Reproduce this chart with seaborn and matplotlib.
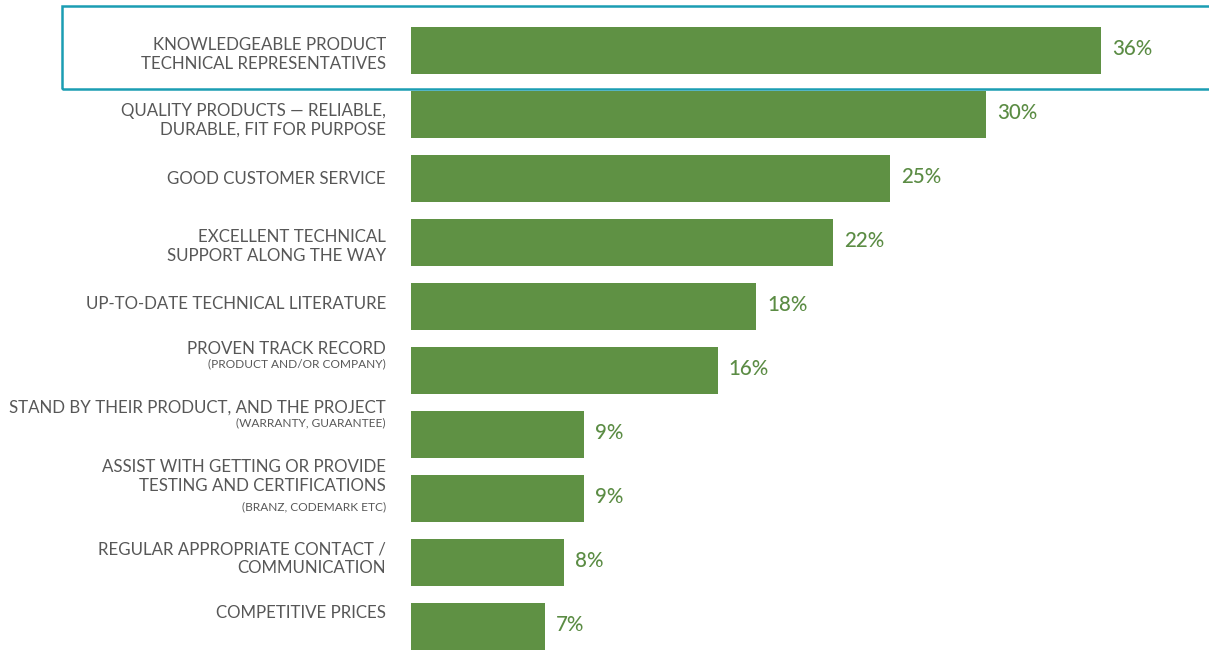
import matplotlib
matplotlib.use("Agg")
import matplotlib.pyplot as plt
from matplotlib.patches import Rectangle
import seaborn as sns
import pandas as pd

# Survey results: what matters most when choosing a supplier
categories = [
    "Knowledgeable product technical representatives",
    "Quality products",
    "Good customer service",
    "Excellent technical support",
    "Up-to-date technical literature",
    "Proven track record",
    "Stand by their product",
    "Testing and certifications",
    "Regular contact",
    "Competitive prices",
]
values = [36, 30, 25, 22, 18, 16, 9, 9, 8, 7]

# Label text per row: main lines, then small qualifier line (or None)
label_main = [
    ["KNOWLEDGEABLE PRODUCT", "TECHNICAL REPRESENTATIVES"],
    ["QUALITY PRODUCTS \u2014 RELIABLE,", "DURABLE, FIT FOR PURPOSE"],
    ["GOOD CUSTOMER SERVICE"],
    ["EXCELLENT TECHNICAL", "SUPPORT ALONG THE WAY"],
    ["UP-TO-DATE TECHNICAL LITERATURE"],
    ["PROVEN TRACK RECORD"],
    ["STAND BY THEIR PRODUCT, AND THE PROJECT"],
    ["ASSIST WITH GETTING OR PROVIDE", "TESTING AND CERTIFICATIONS"],
    ["REGULAR APPROPRIATE CONTACT /", "COMMUNICATION"],
    ["COMPETITIVE PRICES"],
]
label_sub = [
    None, None, None, None, None,
    "(PRODUCT AND/OR COMPANY)",
    "(WARRANTY, GUARANTEE)",
    "(BRANZ, CODEMARK ETC)",
    None, None,
]

df = pd.DataFrame({"category": categories, "value": values})

BAR = "#5f9144"
VALUE_TEXT = "#5b8c44"
TEXT = "#575757"
FRAME = "#1b9db3"

sns.set_theme(style="white")
plt.rcParams["font.family"] = ["Lato", "DejaVu Sans"]

W, H, DPI = 1209, 651, 100
fig = plt.figure(figsize=(W / DPI, H / DPI), dpi=DPI)
fig.patch.set_facecolor("white")

# axes geometry in pixels
ax_left, ax_right = 411, 1178
row_top, row_pitch = 50.5, 64.0
ax_top = row_top - row_pitch / 2
ax_bot = row_top + row_pitch * 9.5
ax = fig.add_axes([ax_left / W, 1 - ax_bot / H,
                   (ax_right - ax_left) / W, (ax_bot - ax_top) / H])

sns.barplot(data=df, x="value", y="category", orient="h", color=BAR,
            saturation=1, width=0.735, ax=ax, edgecolor="none")
ax.set_xlim(0, 40)
ax.set_ylim(len(categories) - 0.5, -0.5)
ax.set_axis_off()

# value labels at bar ends
for i, v in enumerate(values):
    ax.annotate(f"{v}%", xy=(v, i), xytext=(11, 1), textcoords="offset pixels",
                ha="left", va="center", fontsize=14.8, color=VALUE_TEXT,
                fontweight="medium")

# vertical placement (pixels below bar centre) for each text line
main_dy = [
    [-5.5, 13.5], [-3.5, 15.5], [0.5], [-5.5, 13.5], [-2.5],
    [-21.5], [-26.5], [-31.5, -12.5], [-12.5, 5.5], [-13.5],
]
sub_dy = [None, None, None, None, None, -6.5, -11.5, 8.5, None, None]

ytrans = ax.get_yaxis_transform()
for i in range(len(categories)):
    for line, dy in zip(label_main[i], main_dy[i]):
        ax.annotate(line, xy=(0, i), xycoords=ytrans,
                    xytext=(-25, -dy), textcoords="offset pixels",
                    ha="right", va="center", fontsize=12.2, color=TEXT,
                    fontweight="normal", annotation_clip=False)
    if label_sub[i]:
        ax.annotate(label_sub[i], xy=(0, i), xycoords=ytrans,
                    xytext=(-25, -sub_dy[i]), textcoords="offset pixels",
                    ha="right", va="center", fontsize=8.6, color=TEXT,
                    fontweight="normal", annotation_clip=False)

# highlight frame around the top row
fig.patches.append(Rectangle((62 / W, 1 - 89 / H), (W - 60) / W, 83 / H,
                             transform=fig.transFigure, fill=False,
                             edgecolor=FRAME, linewidth=1.8, zorder=5))

fig.savefig("out.png", dpi=DPI, facecolor="white")
